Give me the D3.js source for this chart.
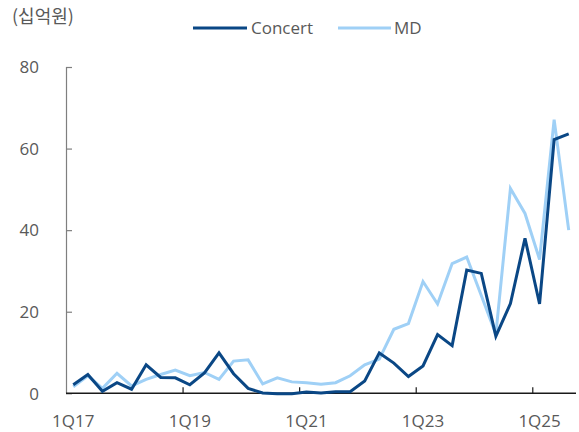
<!DOCTYPE html>
<html>
<head>
<meta charset="utf-8">
<script src="https://cdn.jsdelivr.net/npm/d3@7"></script>
<style>
  html, body { margin: 0; padding: 0; background: #fff; }
  svg text { font-family: "Open Sans", "Noto Sans", "Noto Sans CJK KR", sans-serif; fill: #595959; }
</style>
</head>
<body>
<svg id="chart" width="579" height="432"></svg>
<script>
// Quarterly revenue, 1Q17 – 3Q25 (unit: 십억원)
const quarters = [];
for (let yr = 17; yr <= 25; yr++) {
  for (let q = 1; q <= 4; q++) {
    if (yr === 25 && q > 3) break;
    quarters.push(q + "Q" + yr);
  }
}

const concert = [2.1, 4.6, 0.5, 2.6, 1.0, 7.0, 3.9, 3.8, 2.1, 5.0, 9.9, 4.8, 1.2, 0.1, -0.1, -0.1, 0.3, 0.1,
  0.4, 0.4, 3.0, 9.9, 7.4, 4.1, 6.7, 14.4, 11.7, 30.2, 29.4, 14.0, 22.0, 38.0, 21.9, 62.2, 63.6];
const md = [1.6, 4.3, 1.2, 4.9, 1.8, 3.4, 4.6, 5.7, 4.3, 5.1, 3.4, 7.9, 8.2, 2.3, 3.8, 2.8, 2.6, 2.2,
  2.6, 4.3, 7.0, 8.4, 15.7, 17.1, 27.4, 21.9, 31.8, 33.4, 24.0, 14.5, 50.2, 44.1, 32.8, 67.1, 40.0];

const xLabels = ["1Q17", "1Q19", "1Q21", "1Q23", "1Q25"];
const yTicks = [0, 20, 40, 60, 80];

const seriesNames = ["Concert", "MD"];
const seriesColors = ["#0a4785", "#9fd0f6"];

const svg = d3.select("#chart");
const plotL = 66, plotR = 576, plotT = 67, plotB = 393.3;

const x = d3.scaleBand().domain(quarters).range([plotL, plotR]).paddingInner(0).paddingOuter(0);
const bw = x.bandwidth();
const y = d3.scaleLinear().domain([0, 80]).range([plotB, plotT]);

// Unit label
svg.append("text").attr("x", 12).attr("y", 23).attr("font-size", 18)
  .style("font-family", '"Noto Sans CJK KR", "Noto Sans", sans-serif')
  .text("(십억원)");

// Y axis: ticks point into the plot
const yAxis = svg.append("g").attr("transform", `translate(${plotL},0)`)
  .call(d3.axisRight(y).tickValues(yTicks).tickSize(6).tickFormat(d3.format("d")));
yAxis.select(".domain").attr("stroke", "#7f7f7f").attr("stroke-width", 1.2)
  .attr("d", `M0.5,${plotT}V${plotB}`);
yAxis.selectAll(".tick line").attr("stroke", "#7f7f7f").attr("stroke-width", 1.2);
yAxis.selectAll(".tick text").attr("x", -27).attr("text-anchor", "end")
  .attr("font-size", 17).attr("dy", "0.34em").style("fill", "#595959");

// X axis baseline
const xAxis = svg.append("g").attr("transform", `translate(0,${plotB})`)
  .call(d3.axisBottom(x).tickValues(xLabels).tickSize(0).tickPadding(22));
xAxis.select(".domain").attr("stroke", "#1a1a1a").attr("stroke-width", 1.4)
  .attr("d", `M${plotL},0H${plotR}`);
xAxis.selectAll(".tick text").attr("font-size", 17).style("fill", "#595959");

// Category-boundary tick marks, every 8 quarters, pointing up
svg.append("g").selectAll("line")
  .data(xLabels.slice(1))
  .join("line")
  .attr("x1", d => x(d) + 0.5).attr("x2", d => x(d) + 0.5)
  .attr("y1", plotB).attr("y2", plotB - 6)
  .attr("stroke", "#1a1a1a").attr("stroke-width", 1.2);

// Series lines (MD first, Concert drawn over it)
const line = d3.line()
  .x((d, i) => x(quarters[i]) + bw / 2)
  .y(d => y(d));

[1, 0].forEach(k => {
  const vals = k === 0 ? concert : md;
  svg.append("path")
    .datum(vals)
    .attr("d", line)
    .attr("fill", "none")
    .attr("stroke", seriesColors[k])
    .attr("stroke-width", 3)
    .attr("stroke-linejoin", "miter");
});

// Legend
const legendItems = [
  { name: seriesNames[0], color: seriesColors[0], x1: 193, x2: 247, tx: 251 },
  { name: seriesNames[1], color: seriesColors[1], x1: 338, x2: 391, tx: 394 }
];
const lg = svg.append("g");
legendItems.forEach(it => {
  lg.append("line").attr("x1", it.x1).attr("x2", it.x2).attr("y1", 28).attr("y2", 28)
    .attr("stroke", it.color).attr("stroke-width", 3);
  lg.append("text").attr("x", it.tx).attr("y", 28).attr("dy", "0.35em")
    .attr("font-size", 17).text(it.name);
});
</script>
</body>
</html>
